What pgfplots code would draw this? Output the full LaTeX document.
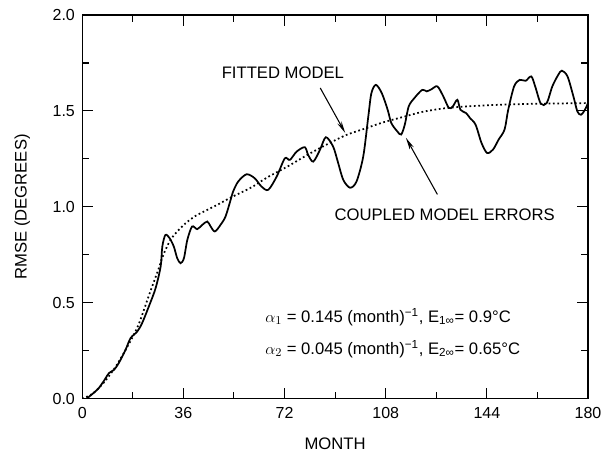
\documentclass[border=0pt]{standalone}
\usepackage{fontspec}
\setmainfont{Liberation Sans}
\usepackage{pgfplots}
\pgfplotsset{compat=1.18}
\usetikzlibrary{arrows.meta}
\begin{document}
\begin{tikzpicture}
\begin{axis}[
  scale only axis,
  width=379.5pt, height=288pt,
  xmin=0, xmax=180, ymin=0, ymax=2,
  xtick={0,36,72,108,144,180},
  ytick={0,0.5,1,1.5,2},
  minor xtick={18,54,90,126,162},
  minor ytick={0.25,0.75,1.25,1.75},
  yticklabel style={/pgf/number format/fixed,/pgf/number format/fixed zerofill,/pgf/number format/precision=1},
  /pgf/number format/assume math mode=true,
  tick align=inside,
  major tick length=8pt, minor tick length=5pt,
  tick style={black, line width=0.8pt},
  axis line style={line width=1pt},
  ticklabel style={font=\fontsize{12}{14}\selectfont},
  xticklabel style={yshift=-3pt},
  yticklabel style={xshift=-2pt},
  label style={font=\fontsize{12.5}{15}\selectfont},
  xlabel={MONTH},
  ylabel={RMSE (DEGREES)},
  xlabel style={at={(axis description cs:0.5,-0.118)}, anchor=center},
  ylabel style={at={(axis description cs:-0.1186,0.5)}, anchor=center},
  clip=true,
]
% fitted model (dotted)
\addplot[black, line width=1.3pt, dash pattern=on 1.3pt off 2pt, smooth] coordinates {
(0,0) (4,0.03) (8,0.09) (12,0.17) (16,0.27) (20,0.385) (24,0.55) (27,0.67) (29,0.755)
(31.4,0.828) (33.8,0.872) (36.8,0.915) (40.3,0.953) (43.9,0.98) (48.6,1.015) (53,1.05)
(60,1.10) (66,1.155) (73,1.21) (80,1.27) (87,1.325) (94,1.375) (100,1.405) (107,1.44)
(114,1.468) (121,1.495) (128,1.512) (135,1.522) (142,1.528) (150,1.533) (160,1.537)
(170,1.539) (180,1.541)
};
% coupled model errors (solid)
\addplot[black, line width=1.3pt, smooth, tension=0.5] coordinates {
(1.5,0) (4,0.03) (6,0.058) (8,0.1) (9.5,0.134) (11.3,0.151) (13,0.186) (15.4,0.255)
(17.2,0.316) (19.6,0.351) (21.3,0.394) (23.7,0.481) (26.1,0.576) (27.9,0.689) (28.5,0.793)
(29.6,0.854) (31.1,0.837) (32.6,0.793) (33.8,0.733) (35,0.707) (36.2,0.733) (37.4,0.828)
(39.1,0.898) (40.9,0.884) (42.7,0.906) (44.5,0.924) (45.7,0.898) (47.2,0.872) (49.2,0.906)
(51,0.95) (52.8,1.036) (53.7,1.08) (55.5,1.132) (58.5,1.17) (61.4,1.149) (63.8,1.106)
(66.2,1.089) (69.2,1.158) (72.1,1.253) (73.9,1.245) (76.3,1.288) (79.2,1.311) (80.4,1.271)
(82.2,1.236) (84.6,1.297) (86.7,1.363) (89.3,1.314) (91.1,1.228) (92.9,1.141) (95.3,1.1)
(97.6,1.132) (100,1.262) (101.8,1.47) (102.9,1.592) (104.5,1.636) (106.6,1.593) (108.7,1.506)
(110,1.437) (112.1,1.394) (113.5,1.377) (114.8,1.429) (116.2,1.524) (118.2,1.567) (121,1.61)
(122.6,1.602) (124.4,1.614) (126.4,1.628) (128.5,1.576) (130.5,1.515) (131.9,1.524)
(133.5,1.558) (134.6,1.506) (136.6,1.489) (138,1.463) (140,1.428) (142.1,1.333) (144.1,1.281)
(146.2,1.299) (148.2,1.351) (150.3,1.403) (151.6,1.506) (153.7,1.628) (155.7,1.662)
(157.8,1.657) (159.8,1.68) (161.2,1.628) (163.2,1.538) (165.3,1.541) (167.3,1.628)
(169.4,1.688) (170.7,1.71) (172.7,1.68) (174.8,1.576) (176.2,1.498) (177.5,1.48)
(178.9,1.506) (180,1.541)
};
\node[font=\fontsize{12.5}{15}\selectfont] at (axis cs:71.4,1.70) {FITTED MODEL};
\draw[black, line width=0.8pt, -{Stealth[length=9pt,width=3.5pt]}] (axis cs:84.7,1.62) -- (axis cs:93.6,1.385);
\node[font=\fontsize{12.5}{15}\selectfont] at (axis cs:129,0.96) {COUPLED MODEL ERRORS};
\draw[black, line width=0.8pt, -{Stealth[length=9pt,width=3.5pt]}] (axis cs:126.4,1.065) -- (axis cs:115.2,1.36);
\node[font=\fontsize{12.5}{15}\selectfont, anchor=west] at (axis cs:63.5,0.425) {$\alpha_1$ = 0.145 (month)\textsuperscript{−1}, E\textsubscript{1∞}= 0.9°C};
\node[font=\fontsize{12.5}{15}\selectfont, anchor=west] at (axis cs:63.5,0.26) {$\alpha_2$ = 0.045 (month)\textsuperscript{−1}, E\textsubscript{2∞}= 0.65°C};
\end{axis}
\pgfresetboundingbox
\path[use as bounding box] (-61.7pt,-39.75pt) rectangle (390pt,299.25pt);
\end{tikzpicture}
\end{document}
